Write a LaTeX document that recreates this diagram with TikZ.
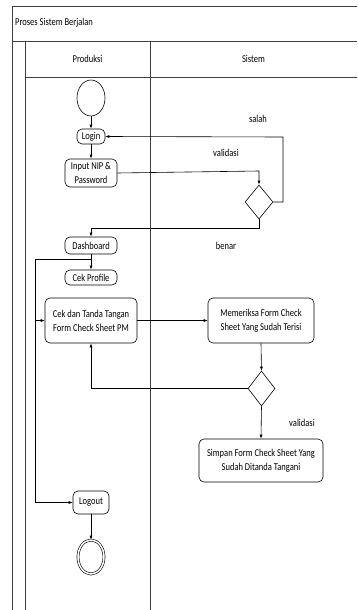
\documentclass[tikz,border=0pt]{standalone}
\usepackage{fontspec}
\setmainfont{Carlito}[FakeStretch=0.81]
\usetikzlibrary{shapes.geometric,arrows.meta}
\begin{document}
\begin{tikzpicture}[x=1pt,y=-1pt,
  every node/.style={font=\fontsize{10.5}{14}\selectfont},
  act/.style={draw,rounded corners=5pt,align=center,inner sep=1pt,line width=0.6pt},
  dec/.style={draw,diamond,inner sep=0pt,minimum width=28pt,minimum height=34pt,line width=0.6pt},
  lane/.style={line width=0.7pt,draw=black!75},
  flow/.style={line width=0.6pt,-{Latex[length=4pt,width=3pt]}}]
\useasboundingbox (0,0) rectangle (357,610);
% swimlane frame
\draw[lane] (357,6) -- (12,6) -- (12,610);
\draw[lane] (12,41) -- (357,41);
\draw[lane] (25,41) -- (25,610);
\draw[lane] (25,77) -- (357,77);
\draw[lane] (150,41) -- (150,610);
\node[anchor=west,inner sep=0pt] (title) at (15,23) {Proses Sistem Berjalan};
\node (lp) at (87.5,59) {Produksi};
\node (ls) at (253.5,59) {Sistem};
% nodes
\node[draw,ellipse,minimum width=28pt,minimum height=36pt,inner sep=0pt,line width=0.6pt] (start) at (91,98) {};
\node[act,minimum width=28pt,minimum height=15pt,inner sep=0.5pt] (login) at (91,136.5) {Login};
\node[act,minimum width=52pt,minimum height=28pt,inner sep=0.5pt] (input) at (91,173) {Input NIP \&\\Password};
\node[dec] (d1) at (259,202) {};
\node[act,minimum width=52pt,minimum height=17pt] (dash) at (91,245.5) {Dashboard};
\node[act,minimum width=52pt,minimum height=15pt,inner sep=0.5pt] (cek) at (91,277.5) {Cek Profile};
\node[act,minimum width=92pt,minimum height=45pt] (ttd) at (91,320.5) {Cek dan Tanda Tangan\\Form Check Sheet PM};
\node[act,minimum width=106pt,minimum height=45pt] (periksa) at (261,320.5) {Memeriksa Form Check\\Sheet Yang Sudah Terisi};
\node[dec,minimum height=35pt,minimum width=27pt] (d2) at (261.5,388.5) {};
\node[act,minimum width=124pt,minimum height=43pt] (simpan) at (261,460.5) {Simpan Form Check Sheet Yang\\Sudah Ditanda Tangani};
\node[act,minimum width=36pt,minimum height=23pt] (logout) at (91,502.5) {Logout};
\node[draw,ellipse,double,double distance=1.5pt,minimum width=26pt,minimum height=34pt,inner sep=0pt,line width=0.6pt] (end) at (91,557) {};
% labels
\node (salah) at (258,119) {salah};
\node (val1) at (226,153) {validasi};
\node (benar) at (226,246) {benar};
\node (val2) at (302,423) {validasi};
\coordinate (j1) at (91,259);
\coordinate (j2) at (35,259);
% connectors
\draw[flow] (start) -- (login);
\draw[flow] (login) -- (input);
\draw[flow] (input.east) -- (259,171) -- (d1.north);
\draw[flow] (d1.east) -- (283,202) -- (283,137) -- (login.east);
\draw[flow] (d1.south) -- (259,228) -- (91,228) -- (dash.north);
\draw[flow] (dash.south) -- (cek.north);
\draw[line width=0.6pt] (j1) -- (j2);
\draw[flow] (j2) -- (35,502.5) -- (logout.west);
\draw[flow] (35,320.5) -- (ttd.west);
\draw[flow] (ttd.east) -- (periksa.west);
\draw[flow] (periksa.south) -- (d2.north);
\draw[flow] (d2.west) -- (91,388.5) -- (ttd.south);
\draw[flow] (d2.south) -- (simpan.north);
\draw[flow] (logout.south) -- (end.north);
\end{tikzpicture}
\end{document}
